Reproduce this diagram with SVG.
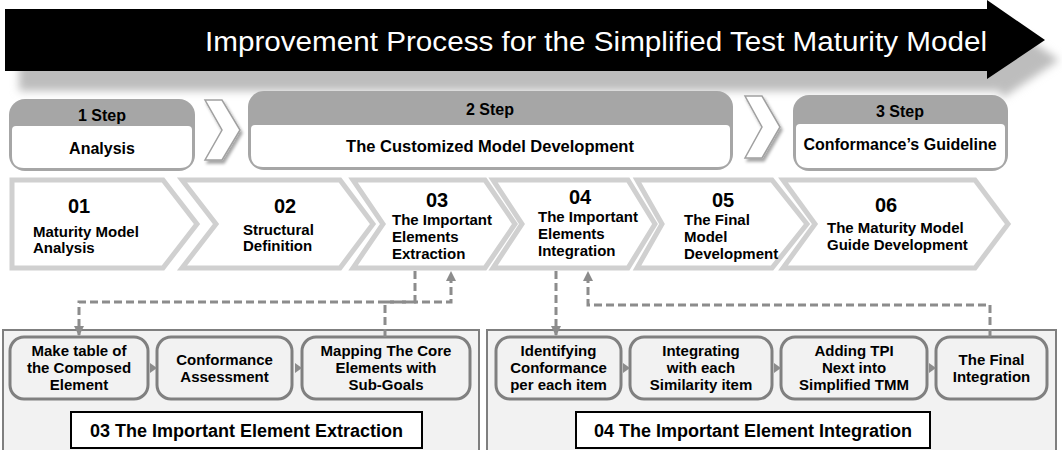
<svg xmlns="http://www.w3.org/2000/svg" width="1062" height="450" viewBox="0 0 1062 450">
<defs>
<style>
text{font-family:"Liberation Sans",Arial,sans-serif;font-weight:bold;fill:#000}
.num{font-size:20px;text-anchor:middle}
.lbl{font-size:15px}
.hl{font-size:16px;text-anchor:middle}
.ctr{text-anchor:middle}
.chev{fill:#fff;stroke:#d0d0d0;stroke-width:5;stroke-linejoin:miter}
.hdr{fill:#a6a6a6}
.wh{fill:#fff}
.sch{fill:#fff;stroke:#a0a0a0;stroke-width:1.5}
.cont{fill:#f2f2f2;stroke:#7f7f7f;stroke-width:2}
.box{fill:#f2f2f2;stroke:#808080;stroke-width:3}
.ttl{fill:#fff;stroke:#000;stroke-width:2}
.ttxt{font-size:18px;text-anchor:middle}
.dash{fill:none;stroke:#8c8c8c;stroke-width:3;stroke-dasharray:8 4}
.tri{fill:#8c8c8c}
</style>
<filter id="blur" x="-5%" y="-50%" width="110%" height="200%"><feGaussianBlur stdDeviation="4"/></filter>
<filter id="sh" x="-50%" y="-50%" width="200%" height="200%"><feDropShadow dx="2" dy="3" stdDeviation="1.5" flood-color="#000" flood-opacity="0.35"/></filter>
<marker id="ah" viewBox="0 0 10 10" refX="9" refY="5" markerWidth="10" markerHeight="10" markerUnits="userSpaceOnUse" orient="auto"><path d="M0,0 L10,5 L0,10 z" fill="#8c8c8c"/></marker>
</defs>

<g id="banner">
<polygon points="5,9 987,9 987,0 1045,40 987,79 987,71 5,71" transform="translate(14,20)" fill="#bdbdbd" filter="url(#blur)"/>
<polygon points="5,9 987,9 987,0 1045,40 987,79 987,71 5,71" fill="#000"/>
<text x="205" y="51" font-size="27" style="fill:#fff;font-weight:normal" textLength="782" lengthAdjust="spacingAndGlyphs">Improvement Process for the Simplified Test Maturity Model</text>
</g>

<g id="step1">
<rect x="9" y="99" width="186" height="72" rx="16" class="hdr"/>
<path class="wh" d="M16,126 H188 Q192,126 192,130 V156 Q192,168 180,168 H24 Q12,168 12,156 V130 Q12,126 16,126 Z"/>
<text x="102" y="121" class="hl">1 Step</text>
<text x="102" y="154" class="hl">Analysis</text>
</g>
<g id="chev-s1">
<polygon class="sch" filter="url(#sh)" points="205,100 222,100 240,130 222,160 205,160 222,130"/>
</g>
<g id="step2">
<rect x="248" y="91" width="485" height="79" rx="16" class="hdr"/>
<path class="wh" d="M255,125 H726 Q730,125 730,129 V155 Q730,167 718,167 H263 Q251,167 251,155 V129 Q251,125 255,125 Z"/>
<text x="490" y="115" class="hl">2 Step</text>
<text x="490" y="152" class="ctr" font-size="16.5">The Customized Model Development</text>
</g>
<g id="chev-s2">
<polygon class="sch" filter="url(#sh)" points="745,96 762,96 780,127 762,158 745,158 762,127"/>
</g>
<g id="step3">
<rect x="793" y="95" width="215" height="76" rx="16" class="hdr"/>
<path class="wh" d="M800,124 H1001 Q1005,124 1005,128 V156 Q1005,168 993,168 H808 Q796,168 796,156 V128 Q796,124 800,124 Z"/>
<text x="900" y="117" class="hl">3 Step</text>
<text x="900" y="150" class="hl">Conformance’s Guideline</text>
</g>

<g id="p01">
<polygon class="chev" points="12,180 163,180 197,224 163,268 12,268"/>
<text x="79" y="213" class="num">01</text>
<text x="33" y="237" class="lbl">Maturity Model</text>
<text x="33" y="253" class="lbl">Analysis</text>
</g>
<g id="p02">
<polygon class="chev" points="182,180 340,180 373,224 340,268 182,268 216,224"/>
<text x="285" y="213" class="num">02</text>
<text x="243" y="235" class="lbl">Structural</text>
<text x="243" y="251" class="lbl">Definition</text>
</g>
<g id="p03">
<polygon class="chev" points="353,180 485,180 515,224 485,268 353,268 383,224"/>
<text x="437" y="207" class="num">03</text>
<text x="392" y="225" class="lbl">The Important</text>
<text x="392" y="242" class="lbl">Elements</text>
<text x="392" y="259" class="lbl">Extraction</text>
</g>
<g id="p04">
<polygon class="chev" points="493,180 628,180 655,224 628,268 493,268 522,224"/>
<text x="580" y="204" class="num">04</text>
<text x="538" y="222" class="lbl">The Important</text>
<text x="538" y="239" class="lbl">Elements</text>
<text x="538" y="256" class="lbl">Integration</text>
</g>
<g id="p05">
<polygon class="chev" points="637,180 772,180 807,224 772,268 637,268 662,224"/>
<text x="723" y="207" class="num">05</text>
<text x="684" y="225" class="lbl">The Final</text>
<text x="684" y="242" class="lbl">Model</text>
<text x="684" y="259" class="lbl">Development</text>
</g>
<g id="p06">
<polygon class="chev" points="783,180 975,180 1008,224 975,268 783,268 815,224"/>
<text x="886" y="212" class="num">06</text>
<text x="827" y="233" class="lbl">The Maturity Model</text>
<text x="827" y="250" class="lbl">Guide Development</text>
</g>

<g id="extraction">
<rect x="3" y="330" width="476" height="124" class="cont"/>
<g id="e1"><rect x="10" y="337" width="138" height="62" rx="14" class="box"/>
<text x="79" y="356" class="lbl ctr">Make table of</text><text x="79" y="373" class="lbl ctr">the Composed</text><text x="79" y="390" class="lbl ctr">Element</text></g>
<g id="e2"><rect x="157" y="337" width="135" height="62" rx="14" class="box"/>
<text x="224.5" y="365" class="lbl ctr">Conformance</text><text x="224.5" y="382" class="lbl ctr">Assessment</text></g>
<g id="e3"><rect x="302" y="337" width="168" height="62" rx="14" class="box"/>
<text x="386" y="356" class="lbl ctr">Mapping The Core</text><text x="386" y="373" class="lbl ctr">Elements with</text><text x="386" y="390" class="lbl ctr">Sub-Goals</text></g>
<g id="t03"><rect x="71" y="412" width="351" height="36" class="ttl"/>
<text x="246.5" y="437" class="ttxt">03 The Important Element Extraction</text></g>
</g>

<g id="integration">
<rect x="487" y="330" width="569" height="124" class="cont"/>
<g id="i1"><rect x="496" y="337" width="125" height="62" rx="14" class="box"/>
<text x="558.5" y="356" class="lbl ctr">Identifying</text><text x="558.5" y="373" class="lbl ctr">Conformance</text><text x="558.5" y="390" class="lbl ctr">per each item</text></g>
<g id="i2"><rect x="630" y="337" width="142" height="62" rx="14" class="box"/>
<text x="701" y="356" class="lbl ctr">Integrating</text><text x="701" y="373" class="lbl ctr">with each</text><text x="701" y="390" class="lbl ctr">Similarity item</text></g>
<g id="i3"><rect x="781" y="337" width="146" height="62" rx="14" class="box"/>
<text x="854" y="356" class="lbl ctr">Adding TPI</text><text x="854" y="373" class="lbl ctr">Next into</text><text x="854" y="390" class="lbl ctr">Simplified TMM</text></g>
<g id="i4"><rect x="936" y="337" width="111" height="62" rx="14" class="box"/>
<text x="991.5" y="365" class="lbl ctr">The Final</text><text x="991.5" y="382" class="lbl ctr">Integration</text></g>
<g id="t04"><rect x="576" y="412" width="354" height="36" class="ttl"/>
<text x="753" y="437" class="ttxt">04 The Important Element Integration</text></g>
</g>

<g id="connectors">
<path class="dash" d="M415,271 V302 H79 V335" marker-end="url(#ah)"/>
<path class="dash" d="M385,337 V302 H451 V272" marker-end="url(#ah)"/>
<path class="dash" d="M556,271 V335" marker-end="url(#ah)"/>
<path class="dash" d="M990,337 V305 H588 V272" marker-end="url(#ah)"/>
<polygon class="tri" points="150,363 157,368 150,373"/>
<polygon class="tri" points="295,363 302,368 295,373"/>
<polygon class="tri" points="623,363 630,368 623,373"/>
<polygon class="tri" points="774,363 781,368 774,373"/>
<polygon class="tri" points="929,363 936,368 929,373"/>
</g>
</svg>
